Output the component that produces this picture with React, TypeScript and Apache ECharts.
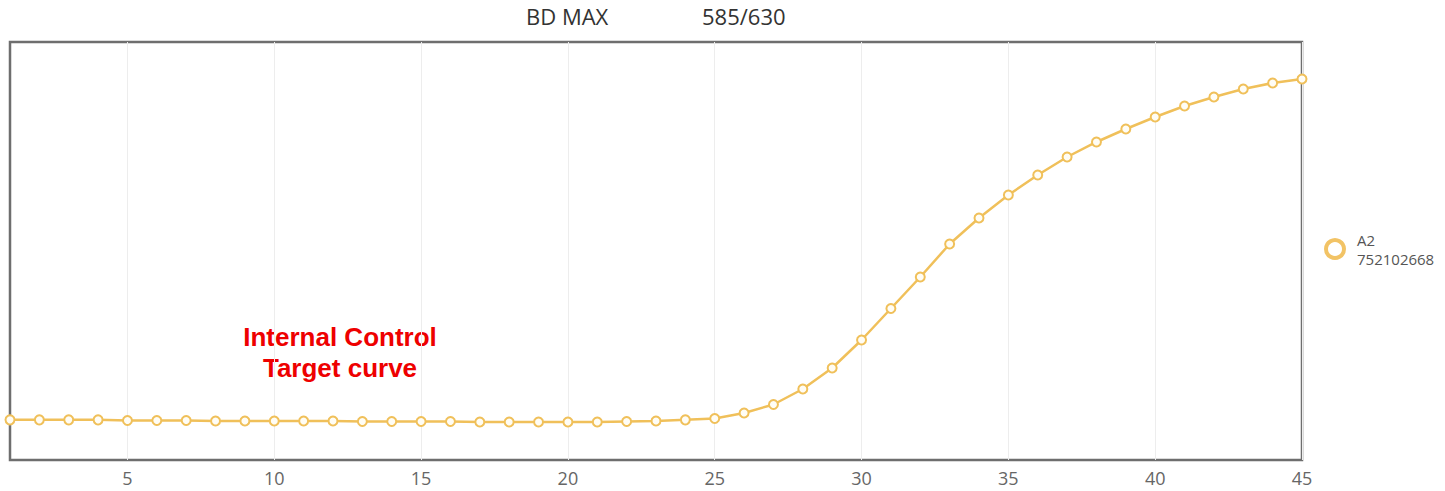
import React, { useEffect, useRef } from "react";
import * as echarts from "echarts";

const cycles = [
  "1", "2", "3", "4", "5", "6", "7", "8", "9", "10",
  "11", "12", "13", "14", "15", "16", "17", "18", "19", "20",
  "21", "22", "23", "24", "25", "26", "27", "28", "29", "30",
  "31", "32", "33", "34", "35", "36", "37", "38", "39", "40",
  "41", "42", "43", "44", "45",
];

const a2Values = [
  96, 96, 96, 96, 94.5, 94.5, 94.5, 93.3, 93.3, 93.3,
  93.3, 93.3, 92.1, 92.1, 92.1, 92.1, 90.9, 90.9, 90.9, 90.9,
  90.9, 92.1, 93.3, 96, 99.3, 112.4, 132.8, 169.9, 220.1, 287.1,
  362.4, 437.8, 516.7, 578.9, 634.0, 681.8, 724.9, 760.8, 791.9, 820.6,
  846.9, 868.4, 887.6, 901.9, 911.5,
];

const seriesName = "A2\n752102668";
const titleLeft = "BD MAX";
const titleRight = "585/630";
const annotation = "Internal Control\nTarget curve";

const lineColor = "#f0c05a";

export default function App() {
  const ref = useRef<HTMLDivElement>(null);
  useEffect(() => {
    if (!ref.current) return;
    const chart = echarts.init(ref.current, undefined, { renderer: "svg" });
    chart.setOption({
      animation: false,
      backgroundColor: "#ffffff",
      grid: {
        left: 10,
        right: 143,
        top: 42,
        bottom: 31,
        show: true,
        borderColor: "#6e6e6e",
        borderWidth: 2.5,
        backgroundColor: "transparent",
      },
      legend: {
        orient: "vertical",
        left: 1319,
        top: 225,
        padding: 5,
        itemWidth: 18,
        itemHeight: 18,
        itemGap: 8,
        textStyle: {
          color: "#555",
          fontSize: 15,
          lineHeight: 19,
          padding: [0, 0, 0, 8],
          fontFamily: "Open Sans, Noto Sans, sans-serif",
        },
        data: [
          {
            name: seriesName,
            icon: "circle",
            itemStyle: {
              color: "#fff",
              borderColor: "#f2c365",
              borderWidth: 4,
            },
          },
        ],
      },
      xAxis: {
        type: "category",
        data: cycles,
        boundaryGap: false,
        axisLine: { show: false },
        axisTick: { show: false },
        axisLabel: {
          color: "#666",
          fontSize: 18,
          margin: 9,
          fontFamily: "Open Sans, Noto Sans, sans-serif",
          interval: (i: number) => (i + 1) % 5 === 0,
        },
        splitLine: {
          show: true,
          interval: (i: number) => (i + 1) % 5 === 0,
          lineStyle: { color: "#ededed", width: 1 },
        },
      },
      yAxis: {
        type: "value",
        min: 0,
        max: 1000,
        axisLine: { show: false },
        axisTick: { show: false },
        axisLabel: { show: false },
        splitLine: { show: false },
      },
      graphic: [
        {
          type: "text",
          left: 526,
          top: 5,
          style: {
            text: titleLeft,
            fill: "#333",
            fontSize: 22,
            fontFamily: "Open Sans, Noto Sans, sans-serif",
          },
        },
        {
          type: "text",
          left: 702,
          top: 5,
          style: {
            text: titleRight,
            fill: "#333",
            fontSize: 22,
            fontFamily: "Open Sans, Noto Sans, sans-serif",
          },
        },
        {
          type: "text",
          x: 340,
          y: 321,
          style: {
            text: annotation,
            fill: "#ee0000",
            fontSize: 26,
            fontWeight: "bold",
            lineHeight: 31,
            align: "center",
            fontFamily: "Liberation Sans, Arial, sans-serif",
          },
        },
      ],
      series: [
        {
          name: seriesName,
          type: "line",
          data: a2Values,
          clip: false,
          symbol: "circle",
          symbolSize: 9,
          lineStyle: { color: lineColor, width: 2.5 },
          itemStyle: {
            color: "#fffdf5",
            borderColor: lineColor,
            borderWidth: 2,
          },
        },
      ],
    });
    return () => chart.dispose();
  }, []);
  return (
    <div
      ref={ref}
      style={{ position: "fixed", left: 0, top: 0, width: 1445, height: 491 }}
    />
  );
}
